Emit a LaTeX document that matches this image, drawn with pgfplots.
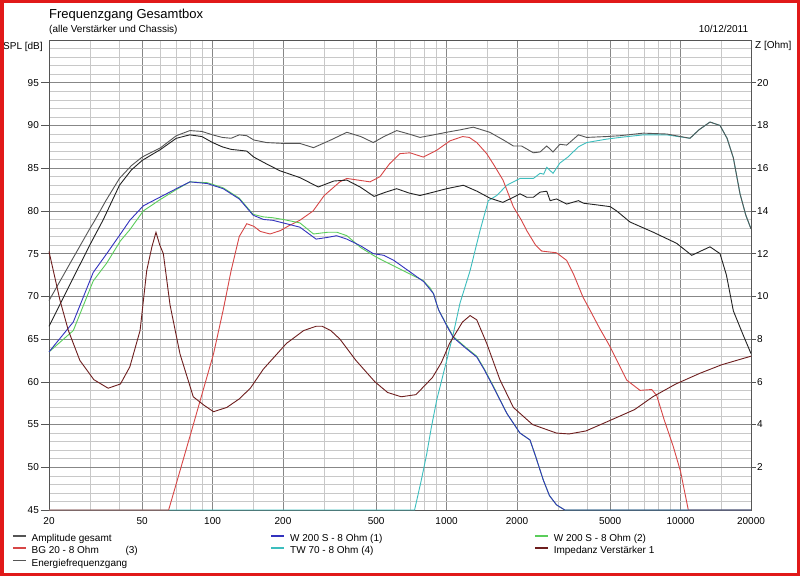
\documentclass[border=0pt]{standalone}
\usepackage{fontspec}
\setmainfont{Liberation Sans}
\usepackage{pgfplots}
\pgfplotsset{compat=1.18}
\definecolor{colAmp}{RGB}{85,85,85}
\definecolor{colEnergy}{RGB}{35,35,35}
\definecolor{colWone}{RGB}{50,50,190}
\definecolor{colWtwo}{RGB}{90,205,90}
\definecolor{colBG}{RGB}{215,70,70}
\definecolor{colTW}{RGB}{60,190,190}
\definecolor{colImp}{RGB}{110,30,30}
\definecolor{gmaj}{RGB}{135,135,135}
\definecolor{gmin}{RGB}{200,200,200}
\definecolor{frame}{RGB}{225,25,25}
\begin{document}
\begin{tikzpicture}[font=\fontsize{10}{12}\selectfont]
\path[use as bounding box] (0,0) rectangle (800pt,576pt);
\fill[white] (0,0) rectangle (800pt,576pt);
\begin{axis}[
 at={(49pt,66pt)}, anchor=south west, scale only axis, width=702pt, height=470pt,
 xmode=log, xmin=20, xmax=20000, ymin=45, ymax=100,
 clip=false,
 xtick={20,50,100,200,500,1000,2000,5000,10000,20000},
 xticklabels={20,50,100,200,500,1000,2000,5000,10000,20000},
 minor xtick={30,40,60,70,80,90,150,300,400,600,700,800,900,1500,3000,4000,6000,7000,8000,9000,15000},
 ytick={45,50,...,95},
 minor ytick={45,46,...,100},
 grid=both,
 major grid style={gmaj, line width=0.6pt},
 minor grid style={gmin, line width=0.6pt},
 tick align=outside,
 major tick length=8pt, minor tick length=0pt,
 xtick pos=bottom, ytick pos=left,
 xtick style={draw=none},
 ytick style={color=colAmp, line width=0.6pt},
 axis line style={color=colAmp, line width=0.7pt},
 xticklabel style={inner sep=0pt, yshift=1pt},
 yticklabel style={inner xsep=2pt},
 /pgf/number format/assume math mode=true,
 tick label style={font=\fontsize{10}{12}\selectfont},
 legend columns=3,
 legend cell align=left,
 legend style={at={(-0.0527,-0.0511)}, anchor=north west, draw=none, fill=none,
   inner sep=0pt, outer sep=0pt, column sep=0pt, row sep=2.3pt,
   nodes={inner sep=0pt, text height=7.5pt, text depth=2.5pt},
   /tikz/every odd column/.append style={column sep=5pt},
   font=\fontsize{10}{12}\selectfont},
 legend image code/.code={\draw[#1] (0pt,3.2pt) -- (13pt,3.2pt);},
]
\addlegendimage{color=colAmp, line width=1.6pt}\addlegendentry{\makebox[239pt][l]{Amplitude gesamt}}
\addlegendimage{color=colWone, line width=1.6pt}\addlegendentry{\makebox[244pt][l]{W 200 S - 8 Ohm (1)}}
\addlegendimage{color=colWtwo, line width=1.6pt}\addlegendentry{W 200 S - 8 Ohm (2)}
\addlegendimage{color=colBG, line width=1.6pt}\addlegendentry{\makebox[239pt][l]{\makebox[94pt][l]{BG 20 - 8 Ohm}(3)}}
\addlegendimage{color=colTW, line width=1.6pt}\addlegendentry{\makebox[244pt][l]{TW 70 - 8 Ohm (4)}}
\addlegendimage{color=colImp, line width=1.6pt}\addlegendentry{Impedanz Verstärker 1}
\addlegendimage{color=colAmp, line width=1.6pt}\addlegendentry{Energiefrequenzgang}
% TW 70
\addplot[color=colTW, line width=0.9pt, forget plot] coordinates {(20,45)(730,45)(780,48.5)(823,51.6)(860,54.6)(908,57.9)(1001,62.5)(1068,65.6)(1141,69.2)(1260,73.0)(1390,77.7)(1508,81.2)(1638,81.8)(1808,83.0)(2060,83.8)(2350,83.8)(2510,84.4)(2600,84.3)(2680,85.1)(2850,84.4)(3050,85.6)(3300,86.3)(3660,87.5)(3970,88.0)(4830,88.4)(5510,88.6)(6930,88.9)(8720,88.9)(10970,88.5)(12000,89.5)(13360,90.4)(14740,90.0)(15800,88.5)(16810,86.2)(17950,82.0)(19000,79.5)(20000,77.9)};
% BG 20
\addplot[color=colBG, line width=0.9pt, forget plot] coordinates {(20,45)(64.9,45)(70,48.1)(80,53.6)(90,58.5)(101,63.3)(111,68.4)(120,73.0)(130,77.0)(140,78.5)(150,78.2)(160,77.6)(176,77.3)(195,77.7)(213,78.3)(236,78.9)(269,80.0)(300,81.8)(350,83.4)(375,83.8)(420,83.6)(471,83.4)(519,84.0)(570,85.5)(632,86.7)(698,86.8)(795,86.3)(908,87.1)(1034,88.2)(1170,88.7)(1250,88.6)(1346,88.0)(1484,86.7)(1600,85.3)(1743,83.6)(1928,80.5)(2090,78.9)(2200,77.7)(2400,76.0)(2550,75.3)(2950,75.1)(3262,74.2)(3500,72.5)(3830,69.9)(4100,68.4)(4500,66.3)(5000,64.1)(5885,60.2)(6710,59.0)(7526,59.1)(7908,58.4)(8500,55.6)(9312,52.4)(10000,49.5)(10790,45)(20000,45)};
% W 200 S (2)
\addplot[color=colWtwo, line width=0.9pt, forget plot] coordinates {(20,63.5)(25.4,66.0)(30.9,71.8)(35.3,73.9)(40.4,76.5)(44.3,77.8)(50.6,80.0)(59.5,81.3)(70,82.5)(80,83.4)(95,83.3)(111,82.7)(130,81.5)(149,79.6)(165,79.3)(181,79.2)(200,79.0)(236,78.6)(270,77.3)(310,77.5)(340,77.5)(375,77.1)(430,75.7)(500,74.6)(611,73.4)(735,72.3)(790,71.9)(850,71.0)(880,70.3)(900,69.4)(925,68.4)(1000,66.7)(1068,65.3)(1200,64.1)(1346,63.0)(1450,61.5)(1584,59.5)(1810,56.3)(2060,54.0)(2272,53.2)(2400,51.3)(2591,48.5)(2750,46.7)(2950,45.6)(3200,45.0)(20000,45.0)};
% W 200 S (1)
\addplot[color=colWone, line width=0.9pt, forget plot] coordinates {(20,63.5)(25.4,67.0)(30.9,72.8)(35.3,75.0)(40.4,77.3)(44.3,78.9)(50.6,80.6)(59.5,81.6)(70,82.6)(80,83.4)(95,83.2)(111,82.6)(130,81.4)(149,79.5)(165,79.0)(181,78.9)(200,78.6)(236,78.1)(277,76.7)(310,76.9)(339,77.1)(375,76.7)(430,75.9)(486,75.0)(540,74.8)(596,74.2)(720,72.6)(800,71.7)(880,70.3)(900,69.4)(925,68.4)(1000,66.6)(1068,65.2)(1200,64.0)(1346,62.9)(1450,61.4)(1584,59.4)(1810,56.3)(2060,54.0)(2272,53.2)(2400,51.3)(2591,48.5)(2750,46.7)(2950,45.6)(3200,45.0)(20000,45.0)};
% Energiefrequenzgang
\addplot[color=colEnergy, line width=0.9pt, forget plot] coordinates {(20,66.5)(25,71.8)(30,76.1)(34,78.9)(40,83.0)(45,84.8)(50,85.9)(60,87.2)(70,88.5)(80,88.9)(90,88.7)(100,88.0)(110,87.5)(120,87.2)(130,87.1)(140,87.0)(150,86.3)(170,85.5)(194,84.7)(236,83.9)(283,82.8)(330,83.5)(375,83.6)(427,82.8)(490,81.7)(550,82.2)(612,82.6)(690,82.1)(770,81.8)(880,82.2)(1000,82.6)(1180,83.0)(1350,82.3)(1530,81.5)(1740,81.0)(1930,81.6)(2060,82.0)(2200,81.6)(2350,81.6)(2510,82.2)(2680,82.3)(2770,81.2)(2950,81.4)(3260,80.8)(3660,81.2)(3850,80.9)(4400,80.7)(5000,80.5)(5330,80.0)(6080,78.7)(7650,77.5)(9630,76.2)(11160,74.8)(12200,75.3)(13360,75.8)(14740,75.0)(15700,72.5)(16810,68.3)(18500,65.5)(20000,63.3)};
% Amplitude gesamt
\addplot[color=colAmp, line width=0.9pt, forget plot] coordinates {(20,69.5)(25,74.2)(30,78.0)(31.4,78.9)(35,81.2)(40,83.8)(45,85.3)(50,86.3)(60,87.4)(70,88.8)(80,89.4)(90,89.3)(100,88.9)(110,88.6)(120,88.5)(130,88.9)(140,88.8)(150,88.3)(170,88.0)(200,87.9)(236,87.9)(270,87.4)(320,88.3)(375,89.2)(430,88.7)(486,88.0)(540,88.7)(612,89.4)(690,89.0)(770,88.6)(880,88.9)(1000,89.2)(1150,89.5)(1300,89.8)(1530,89.2)(1750,88.3)(1930,87.6)(2090,87.6)(2350,86.8)(2510,86.9)(2680,87.6)(2850,86.9)(3050,87.8)(3260,87.7)(3660,88.9)(3970,88.6)(4800,88.7)(5510,88.8)(6930,89.1)(8720,89.0)(10970,88.5)(12000,89.5)(13360,90.4)(14740,90.0)(15800,88.5)(16810,86.2)(17950,82.0)(19000,79.5)(20000,77.9)};
\end{axis}
\begin{axis}[
 at={(49pt,66pt)}, anchor=south west, scale only axis, width=702pt, height=470pt,
 xmode=log, xmin=20, xmax=20000, ymin=0, ymax=22,
 clip=false,
 axis y line*=right, hide x axis,
 ytick={2,4,...,20},
 tick align=outside, major tick length=5pt,
 ytick style={color=colAmp, line width=0.6pt},
 axis line style={color=colAmp, line width=0.7pt},
 yticklabel style={inner xsep=1pt},
 /pgf/number format/assume math mode=true,
 tick label style={font=\fontsize{10}{12}\selectfont},
]
\addplot[color=colImp, line width=0.9pt] coordinates {(20,12.1)(22.3,9.8)(24.2,8.4)(27.1,7.0)(31.1,6.1)(35.8,5.7)(40.4,5.9)(44.3,6.7)(49,8.4)(52.3,11.2)(55,12.3)(57.3,13.0)(59.5,12.4)(61.6,12.0)(65.8,9.6)(72.6,7.3)(82.7,5.3)(92,4.9)(101,4.6)(107.6,4.7)(115,4.8)(130,5.2)(145,5.7)(165,6.6)(207,7.8)(245,8.4)(277,8.6)(294,8.6)(320,8.4)(350,8.0)(410,7.0)(494,6.0)(560,5.5)(640,5.3)(740,5.4)(870,6.2)(950,6.9)(1030,7.8)(1170,8.8)(1260,9.1)(1346,8.9)(1484,7.8)(1690,6.1)(1930,4.8)(2330,4.0)(2950,3.6)(3340,3.56)(3940,3.7)(4780,4.1)(6360,4.7)(7610,5.3)(9550,5.9)(12100,6.4)(15000,6.8)(20000,7.2)};
\end{axis}
\node[anchor=base west, inner sep=0pt, font=\fontsize{13}{15}\selectfont] at (49pt,557pt) {Frequenzgang Gesamtbox};
\node[anchor=base west, inner sep=0pt] at (49pt,543.7pt) {(alle Verstärker und Chassis)};
\node[anchor=base east, inner sep=0pt] at (748.3pt,543.7pt) {10/12/2011};
\node[anchor=base west, inner sep=0pt] at (3pt,526.7pt) {SPL [dB]};
\node[anchor=base west, inner sep=0pt] at (755pt,527pt) {Z [Ohm]};
\draw[frame, line width=3.5pt] (1.75pt,1.75pt) rectangle (798.25pt,574.25pt);
\end{tikzpicture}
\end{document}
